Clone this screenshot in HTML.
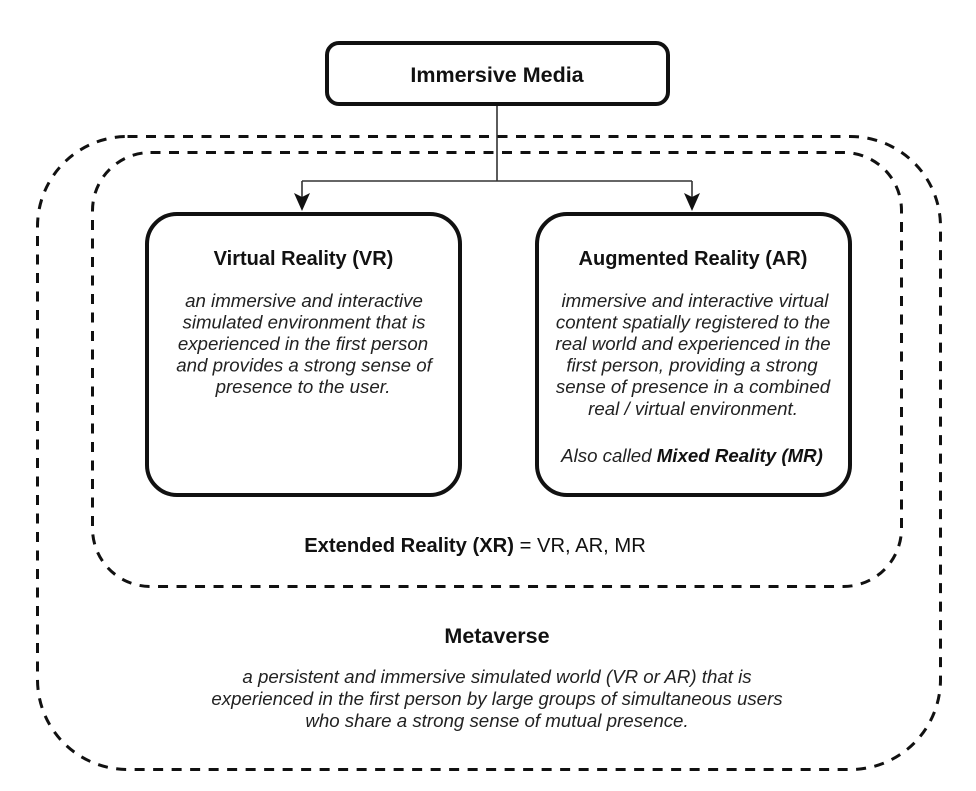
<!DOCTYPE html>
<html>
<head>
<meta charset="utf-8">
<style>
  html, body { margin:0; padding:0; background:#fff; }
  svg { display:block; }
  .b { font-family:"Liberation Sans", Arial, sans-serif; font-weight:bold; fill:#111; }
  .i { font-family:"Liberation Sans", Arial, sans-serif; font-style:italic; fill:#222; font-size:18.7px; }
  .r { font-family:"Liberation Sans", Arial, sans-serif; fill:#111; }
</style>
</head>
<body>
<svg width="976" height="791" viewBox="0 0 976 791" xmlns="http://www.w3.org/2000/svg">
  <rect x="0" y="0" width="976" height="791" fill="#fff"/>

  <!-- Outer dashed (Metaverse) -->
  <rect x="37.5" y="136.5" width="903" height="633" rx="90" ry="90" fill="none" stroke="#111" stroke-width="3" stroke-dasharray="10 8.5"/>
  <!-- Inner dashed (XR) -->
  <rect x="92.5" y="152.5" width="809" height="434" rx="58" ry="58" fill="none" stroke="#111" stroke-width="3" stroke-dasharray="10 8.5"/>

  <!-- Connectors -->
  <path d="M497 106 V181 M302 181 H692 M302 181 V198 M692 181 V198" fill="none" stroke="#333" stroke-width="1.6"/>
  <polygon points="302,211 294,193 302,197 310,193" fill="#111"/>
  <polygon points="692,211 684,193 692,197 700,193" fill="#111"/>

  <!-- Top box -->
  <rect x="327" y="43" width="341" height="61" rx="12" ry="12" fill="#fff" stroke="#111" stroke-width="4"/>
  <text class="b" x="497" y="82" font-size="21.5" text-anchor="middle">Immersive Media</text>

  <!-- VR box -->
  <rect x="147" y="214" width="313" height="281" rx="30" ry="30" fill="#fff" stroke="#111" stroke-width="4"/>
  <text class="b" x="303.5" y="265" font-size="20" text-anchor="middle">Virtual Reality (VR)</text>
  <text class="i" x="304" y="307" text-anchor="middle">an immersive and interactive</text>
  <text class="i" x="304" y="328.5" text-anchor="middle">simulated environment that is</text>
  <text class="i" x="303" y="350" text-anchor="middle">experienced in the first person</text>
  <text class="i" x="304" y="371.5" text-anchor="middle">and provides a strong sense of</text>
  <text class="i" x="303" y="393" text-anchor="middle">presence to the user.</text>

  <!-- AR box -->
  <rect x="537" y="214" width="313" height="281" rx="30" ry="30" fill="#fff" stroke="#111" stroke-width="4"/>
  <text class="b" x="693" y="265" font-size="20" text-anchor="middle">Augmented Reality (AR)</text>
  <text class="i" x="695" y="307" text-anchor="middle">immersive and interactive virtual</text>
  <text class="i" x="693" y="328.5" text-anchor="middle">content spatially registered to the</text>
  <text class="i" x="693" y="350" text-anchor="middle">real world and experienced in the</text>
  <text class="i" x="692" y="371.5" text-anchor="middle">first person, providing a strong</text>
  <text class="i" x="693" y="393" text-anchor="middle">sense of presence in a combined</text>
  <text class="i" x="693" y="415" text-anchor="middle">real / virtual environment.</text>
  <text class="i" x="692" y="462" text-anchor="middle">Also called <tspan font-weight="bold" fill="#111">Mixed Reality (MR)</tspan></text>

  <!-- Extended Reality -->
  <text x="475" y="552" font-size="20.2" text-anchor="middle" class="r"><tspan font-weight="bold">Extended Reality (XR)</tspan> = VR, AR, MR</text>

  <!-- Metaverse -->
  <text class="b" x="497" y="643" font-size="21.5" text-anchor="middle">Metaverse</text>
  <text class="i" x="497" y="683" text-anchor="middle">a persistent and immersive simulated world (VR or AR) that is</text>
  <text class="i" x="497" y="705" text-anchor="middle">experienced in the first person by large groups of simultaneous users</text>
  <text class="i" x="497" y="727" text-anchor="middle">who share a strong sense of mutual presence.</text>
</svg>
</body>
</html>
